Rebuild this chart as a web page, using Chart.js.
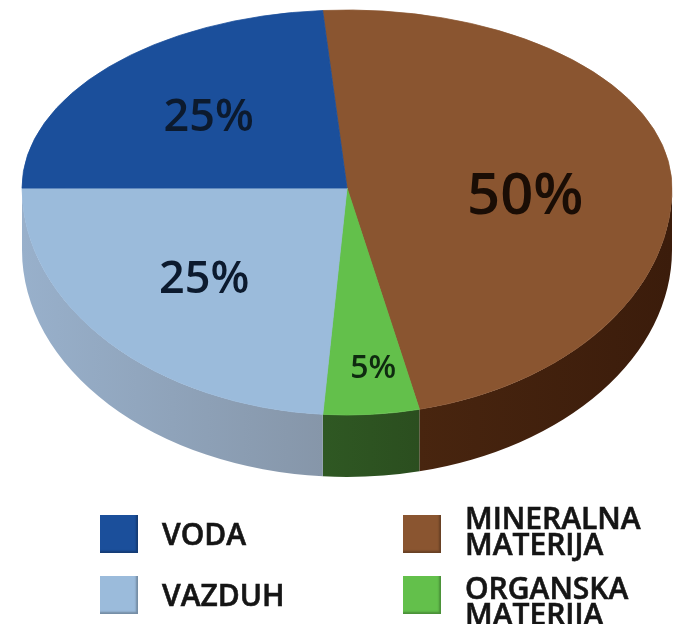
<!DOCTYPE html>
<html>
<head>
<meta charset="utf-8">
<script src="https://cdn.jsdelivr.net/npm/chart.js@4.4.1/dist/chart.umd.min.js"></script>
<style>
body { margin: 0; background: #fff; font-family: "Open Sans", sans-serif; }
#wrap { position: relative; width: 673px; height: 624px; overflow: hidden; }
#pie { position: absolute; left: 0; top: 0; }
.box { position: absolute; width: 38px; height: 38px; box-shadow: inset -2px -2px 2px rgba(0,0,0,0.25); }
.txt { position: absolute; font-weight: 600; font-size: 30px; line-height: 26px; color: #151515; white-space: pre; -webkit-text-stroke: 0.6px #151515; }
</style>
</head>
<body>
<div id="wrap">
  <canvas id="pie" width="673" height="624"></canvas>
  <div id="legend"></div>
</div>
<script>
// podaci (redom u smjeru kazaljke od 12 sati)
var labels = ['MINERALNA\nMATERIJA', 'ORGANSKA\nMATERIJA', 'VAZDUH', 'VODA'];
var values = [50, 5, 25, 25];
var topColors = ['#8a5530', '#63c04b', '#9bbbdb', '#1b4f9b'];
var sideColors = [['#48250f', '#3b1c0b'], ['#2f5823', '#2b4e1f'], ['#98b0cb', '#8696a9'], ['#17427f', '#17427f']];
var labelColors = ['#1a0d05', '#0f2a10', '#0c1a2e', '#0c1a2e'];
var labelSizes = [58, 32, 45, 45];
// pomak natpisa od sredine isjecka (stupnjevi) i udaljenost od centra
var labelShift = [13, -1.5, 0, 0];
var labelDist = [0.55, 0.8, 0.6, 0.58];

// "3D" izgled: gornja i donja polovina spljostene razlicito
var topScale = 178 / 325;
var bottomScale = 227 / 325;
var depth = 62;

function squash(ctx, x, y, k) {
  ctx.translate(x, y);
  ctx.scale(1, k);
  ctx.translate(-x, -y);
}

var pie3d = {
  id: 'pie3d',
  beforeDatasetsDraw: function(chart) {
    var ctx = chart.ctx;
    var arcs = chart.getDatasetMeta(0).data;
    var x = arcs[0].x, y = arcs[0].y, r = arcs[0].outerRadius;

    // bocna strana (samo prednja polovina)
    ctx.save();
    squash(ctx, x, y, bottomScale);
    var d = depth / bottomScale;
    arcs.forEach(function(arc, i) {
      var a0 = Math.max(arc.startAngle, 0);
      var a1 = Math.min(arc.endAngle, Math.PI);
      if (a1 - a0 < 0.001) return;
      var g = ctx.createLinearGradient(x + r * Math.cos(a1), 0, x + r * Math.cos(a0), 0);
      g.addColorStop(0, sideColors[i][0]);
      g.addColorStop(1, sideColors[i][1]);
      ctx.beginPath();
      ctx.arc(x, y, r, a0, a1);
      ctx.arc(x, y + d, r, a1, a0, true);
      ctx.closePath();
      ctx.fillStyle = g;
      ctx.fill();
    });
    ctx.restore();

    // gornja povrsina
    [[0, y, topScale], [y, chart.height - y, bottomScale]].forEach(function(h) {
      ctx.save();
      ctx.beginPath();
      ctx.rect(0, h[0], chart.width, h[1]);
      ctx.clip();
      squash(ctx, x, y, h[2]);
      arcs.forEach(function(arc) { arc.draw(ctx); });
      ctx.restore();
    });
    return false;
  },
  afterDraw: function(chart) {
    var ctx = chart.ctx;
    var arcs = chart.getDatasetMeta(0).data;
    ctx.save();
    ctx.textAlign = 'center';
    ctx.textBaseline = 'middle';
    arcs.forEach(function(arc, i) {
      var mid = (arc.startAngle + arc.endAngle) / 2 + labelShift[i] * Math.PI / 180;
      var f = labelDist[i];
      var px = arc.x + Math.cos(mid) * arc.outerRadius * f;
      var dy = Math.sin(mid) * arc.outerRadius * f;
      var py = arc.y + dy * (dy < 0 ? topScale : bottomScale);
      ctx.font = '600 ' + labelSizes[i] + 'px "Open Sans"';
      ctx.fillStyle = labelColors[i];
      ctx.fillText(values[i] + '%', px, py);
    });
    ctx.restore();
  }
};

var ctx = document.getElementById('pie').getContext('2d');
var myChart = new Chart(ctx, {
  type: 'pie',
  data: {
    labels: labels,
    datasets: [{
      data: values,
      backgroundColor: topColors,
      borderColor: topColors,
      borderWidth: 1
    }]
  },
  options: {
    responsive: false,
    animation: false,
    events: [],
    rotation: -4.3,
    radius: 325,
    layout: { padding: { left: 21, right: 0, top: 0, bottom: 248 } },
    plugins: {
      legend: { display: false },
      tooltip: { enabled: false }
    }
  },
  plugins: [pie3d]
});

// legenda
var legendOrder = [3, 0, 2, 1];
var boxPos = [[100, 515], [403, 515], [100, 576], [403, 576]];
var textTop = [521, 505, 582, 575];
var legend = document.getElementById('legend');
legendOrder.forEach(function(idx, k) {
  var box = document.createElement('div');
  box.className = 'box';
  box.style.left = boxPos[k][0] + 'px';
  box.style.top = boxPos[k][1] + 'px';
  box.style.background = topColors[idx];
  legend.appendChild(box);
  var t = document.createElement('div');
  t.className = 'txt';
  t.style.left = (boxPos[k][0] + 62) + 'px';
  t.style.top = textTop[k] + 'px';
  t.textContent = labels[idx];
  legend.appendChild(t);
});
</script>
</body>
</html>
